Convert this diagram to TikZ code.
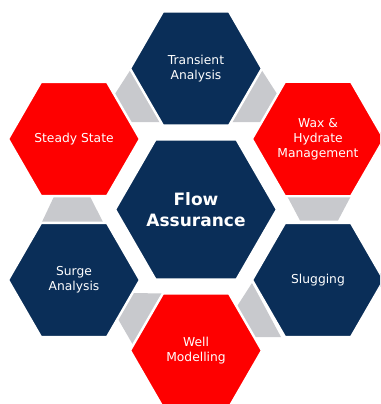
\documentclass[tikz,border=0pt]{standalone}
\usepackage{fontspec}
\setmainfont{DejaVu Sans}
\usetikzlibrary{shapes.geometric}
\definecolor{flownavy}{RGB}{10,46,88}
\definecolor{flowred}{RGB}{254,0,0}
\definecolor{flowgray}{RGB}{200,201,205}

\begin{document}
\begin{tikzpicture}[x=1pt,y=-1pt,
  hex/.style={regular polygon, regular polygon sides=6, minimum size=132pt, inner sep=0pt,
    draw=white, line width=2.4pt, text=white, align=center, font=\fontsize{12.3}{15}\selectfont},
  navyhex/.style={hex, fill=flownavy},
  redhex/.style={hex, fill=flowred},
  link/.style={fill=flowgray}]
\useasboundingbox (0,0) rectangle (380,404);
\clip (0,0) rectangle (380,404);

\begin{scope}
\path[link] (131,69) -- (113,97) -- (126,122) -- (163,122) -- cycle;
\path[link] (261,69) -- (279,97) -- (266,122) -- (229,122) -- cycle;
\path[link] (54,196.5) -- (90,196.5) -- (104,224) -- (41,224) -- cycle;
\path[link] (286,194) -- (352,194) -- (338,220.5) -- (300,220.5) -- cycle;
\path[link] (126,293) -- (170,293.5) -- (136.5,351) -- (115.7,315) -- cycle;
\path[link] (252,283) -- (234,311) -- (247,337) -- (281,337) -- cycle;
\end{scope}

\node[navyhex, minimum size=162pt, font=\bfseries\fontsize{17}{20.5}\selectfont] (0) at (196,209.5) {Flow\\Assurance};
\node[navyhex] (1) at (196,68.5) {Transient\\Analysis};
\node[redhex] (2) at (318,139) {Wax \&\\Hydrate\\Management};
\node[navyhex] (3) at (318,280) {Slugging};
\node[redhex] (4) at (196,350.5) {Well\\Modelling};
\node[navyhex] (5) at (74,280) {Surge\\Analysis};
\node[redhex] (6) at (74,139) {Steady State};
\end{tikzpicture}
\end{document}
